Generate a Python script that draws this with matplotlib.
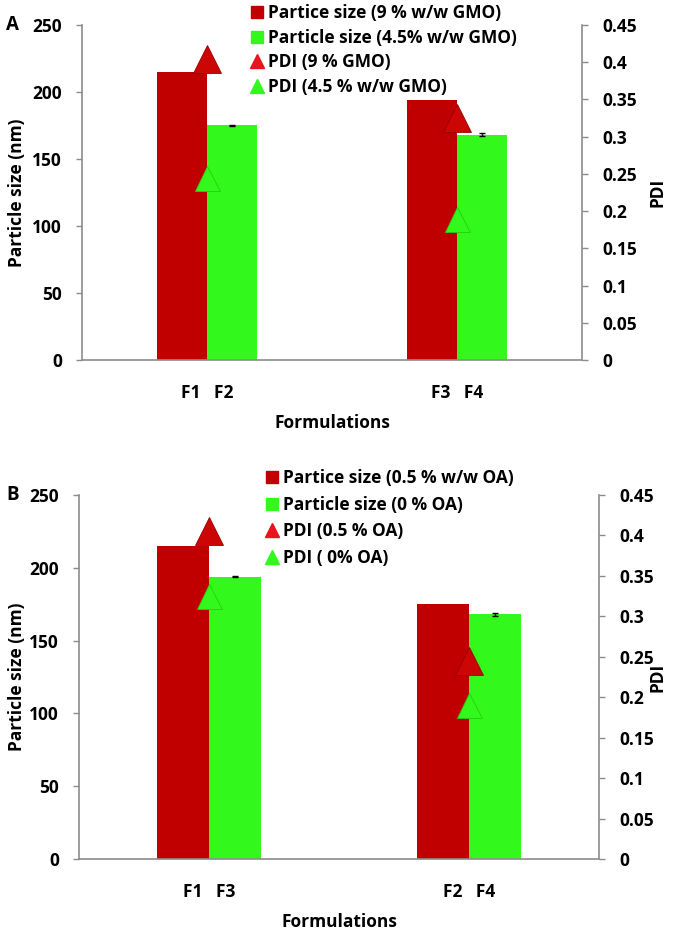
import numpy as np
import matplotlib.pyplot as plt
from matplotlib.lines import Line2D

plt.rcParams['font.family'] = ['Open Sans', 'DejaVu Sans']
plt.rcParams['font.weight'] = 'bold'
plt.rcParams['axes.labelweight'] = 'bold'

# panel A
cats_a = ['F1   F2', 'F3   F4']
size_red_a = [215, 194]
size_green_a = [175, 168]
err_green_a = [0.5, 1.2]
pdi_red_a = [0.405, 0.325]
pdi_green_a = [0.245, 0.19]
labels_a = ['Partice size (9 % w/w GMO)', 'Particle size (4.5% w/w GMO)',
            'PDI (9 % GMO)', 'PDI (4.5 % w/w GMO)']

# panel B
cats_b = ['F1   F3', 'F2   F4']
size_red_b = [215, 175]
size_green_b = [194, 168]
err_green_b = [0.5, 1.2]
pdi_red_b = [0.405, 0.245]
pdi_green_b = [0.325, 0.19]
labels_b = ['Partice size (0.5 % w/w OA)', 'Particle size (0 % OA)',
            'PDI (0.5 % OA)', 'PDI ( 0% OA)']

left_ticks = [0, 50, 100, 150, 200, 250]
right_ticks = [0, 0.05, 0.1, 0.15, 0.2, 0.25, 0.3, 0.35, 0.4, 0.45]
right_labels = ['0', '0.05', '0.1', '0.15', '0.2', '0.25', '0.3', '0.35', '0.4', '0.45']

RED = '#C00000'
RED_TRI = '#CC0505'
GREEN = '#33F81C'
GREY = '#8C8C8C'
FS = 12.5

W, H = 688, 930
fig = plt.figure(figsize=(W / 100, H / 100), dpi=100)


def panel(rect, cats, red, green, err, pdi_r, pdi_g, labels, letter, leg_xy, leg_sp):
    ax = fig.add_axes(rect)
    x = np.arange(len(cats))
    w = 0.2
    ax.bar(x - w / 2, red, w, color=RED, zorder=2)
    ax.bar(x + w / 2, green, w, color=GREEN, zorder=2,
           yerr=err, error_kw=dict(ecolor='black', elinewidth=1, capsize=2.5, capthick=1))
    ax.set_xlim(-0.5, 1.5)
    ax.set_ylim(0, 250)
    ax.set_yticks(left_ticks)
    ax.set_xticks(x)
    ax.set_xticklabels(cats)
    ax.tick_params(axis='x', length=0, pad=17, labelsize=FS)
    ax.tick_params(axis='y', length=4.5, width=1, color=GREY, pad=10, labelsize=FS)
    for s in ['top', 'right']:
        ax.spines[s].set_visible(False)
    for s in ['left', 'bottom']:
        ax.spines[s].set_color(GREY)
        ax.spines[s].set_linewidth(1.2)
    ax.set_xlabel('Formulations', fontsize=FS, labelpad=9)
    ax.set_ylabel('Particle size (nm)', fontsize=FS)

    ax2 = ax.twinx()
    ax2.plot(x, pdi_r, linestyle='none', marker='^', markersize=20,
             color=RED_TRI, markeredgecolor='#9A0000', markeredgewidth=0.6, zorder=3)
    ax2.plot(x, pdi_g, linestyle='none', marker='^', markersize=18,
             color=GREEN, markeredgecolor='#22D010', markeredgewidth=0.6, zorder=3)
    ax2.set_ylim(0, 0.45)
    ax2.set_yticks(right_ticks)
    ax2.set_yticklabels(right_labels)
    ax2.tick_params(axis='y', length=4.5, width=1, color=GREY, pad=10, labelsize=FS)
    for s in ['top', 'left', 'bottom']:
        ax2.spines[s].set_visible(False)
    ax2.spines['right'].set_color(GREY)
    ax2.spines['right'].set_linewidth(1.2)
    ax2.set_ylabel('PDI', fontsize=FS)

    bb = ax.get_position()
    ax.yaxis.set_label_coords((26 - bb.x0 * W) / (bb.width * W), 0.5)
    ax2.yaxis.set_label_coords((649 - bb.x0 * W) / (bb.width * W), 0.5)

    handles = [Line2D([], [], linestyle='none', marker='s', markersize=9, color=RED),
               Line2D([], [], linestyle='none', marker='s', markersize=9, color=GREEN),
               Line2D([], [], linestyle='none', marker='^', markersize=10, color='#E8141E'),
               Line2D([], [], linestyle='none', marker='^', markersize=10, color=GREEN)]
    fig.legend(handles, labels, loc='upper left',
               bbox_to_anchor=(leg_xy[0] / W, 1 - leg_xy[1] / H),
               frameon=False, fontsize=FS, handlelength=0.7, handletextpad=0.3,
               labelspacing=leg_sp, borderpad=0, borderaxespad=0)
    fig.text(6 / W, bb.y1, letter, fontsize=13.5, fontweight='bold', va='center', ha='left')
    return ax, ax2


panel([82 / W, 1 - 360 / H, 500 / W, 335 / H], cats_a, size_red_a, size_green_a,
      err_green_a, pdi_red_a, pdi_green_a, labels_a, 'A', (251, 4), 0.38)
panel([79 / W, 1 - 859 / H, 520 / W, 364 / H], cats_b, size_red_b, size_green_b,
      err_green_b, pdi_red_b, pdi_green_b, labels_b, 'B', (266, 469), 0.5)

fig.savefig('out.png', dpi=100)
